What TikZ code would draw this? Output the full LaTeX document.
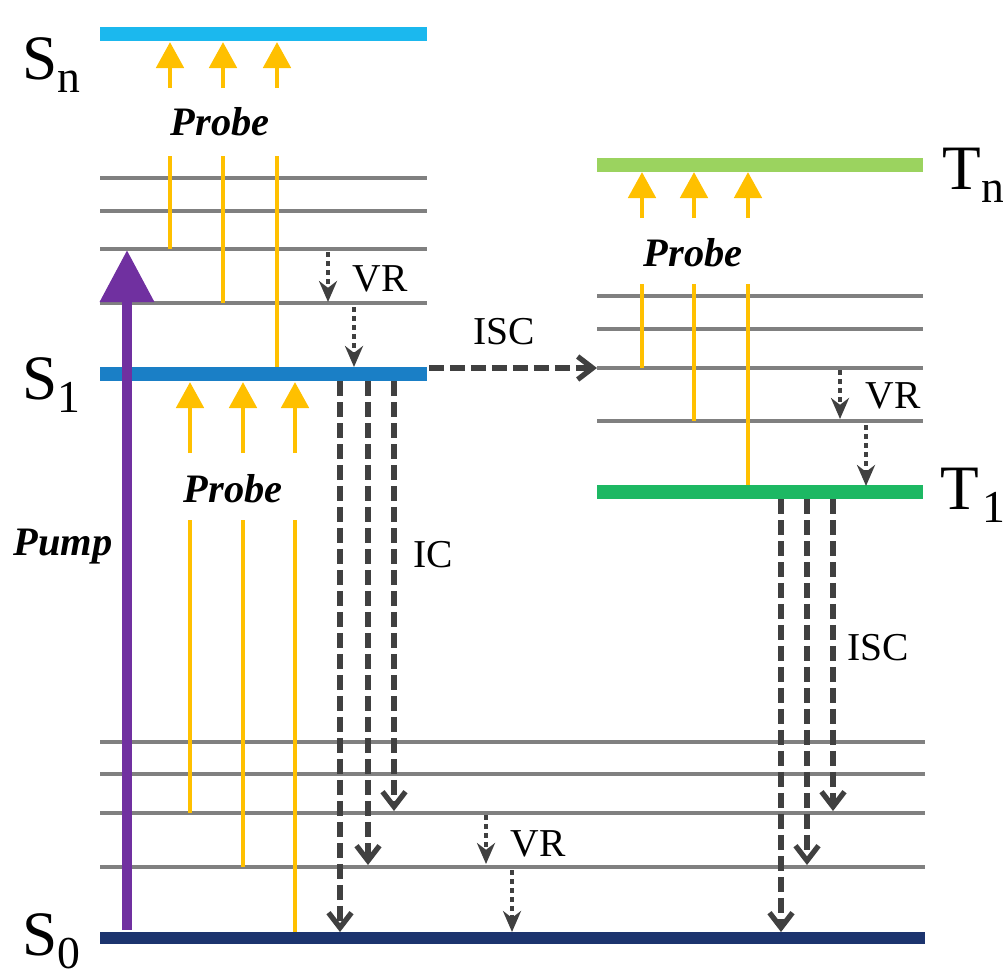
\documentclass[tikz,border=0pt]{standalone}
\usepackage{fontspec}
\setmainfont{Liberation Serif}
\usetikzlibrary{arrows.meta, positioning}
\definecolor{snblue}{RGB}{27,184,238}
\definecolor{sonebl}{RGB}{26,127,198}
\definecolor{szeronavy}{RGB}{28,52,110}
\definecolor{tngreen}{RGB}{155,211,95}
\definecolor{tonegreen}{RGB}{29,184,99}
\definecolor{probeyellow}{RGB}{255,192,0}
\definecolor{pumppurple}{RGB}{112,48,160}
\definecolor{levelgray}{RGB}{128,128,128}
\definecolor{arrowgray}{RGB}{64,64,64}
\newcommand{\statename}[2]{#1\raisebox{-7.4pt}{\fontsize{26}{26}\selectfont #2}}

\begin{document}
\begin{tikzpicture}[
    x=0.02cm, y=-0.02cm,
    level/.style={line width=7.9pt},
    sublevel/.style={line width=2.8pt, levelgray},
    probeline/.style={line width=2.8pt, probeyellow},
    probearrow/.style={probeline, -{Triangle[length=0.52cm, width=0.54cm]}},
    pumparrow/.style={line width=5.7pt, pumppurple, -{Triangle[length=1.04cm, width=1.04cm]}},
    icarrow/.style={line width=3pt, arrowgray, dash pattern=on 0.3cm off 0.12cm,
        -{Straight Barb[length=0.3cm, width=0.46cm]}},
    vrarrow/.style={line width=2.5pt, arrowgray, dash pattern=on 0.1cm off 0.08cm,
        -{Stealth[open, length=0.42cm, width=0.36cm]}},
    lbl/.style={font=\fontsize{22.5}{27}\selectfont, inner sep=0pt, anchor=base},
    probelbl/.style={lbl, font=\fontsize{23}{27}\selectfont\bfseries\itshape},
    statelbl/.style={font=\fontsize{36}{40}\selectfont, inner sep=0pt, anchor=base west}
]
\useasboundingbox (0,0) rectangle (1003,978);

% vibrational levels
\foreach \y in {178,211,249,303}
    \draw[sublevel] (100,\y) -- (427,\y);
\foreach \y in {296,329,368,421}
    \draw[sublevel] (597,\y) -- (923,\y);
\foreach \y in {742,774,813,867}
    \draw[sublevel] (100,\y) -- (925,\y);

% probe transitions
\draw[probeline] (170,156) -- (170,249);
\draw[probeline] (223,156) -- (223,303);
\draw[probeline] (277,156) -- (277,374);
\draw[probeline] (190,520) -- (190,813);
\draw[probeline] (243,520) -- (243,867);
\draw[probeline] (295,520) -- (295,938);
\draw[probeline] (642,284) -- (642,368);
\draw[probeline] (694,284) -- (694,421);
\draw[probeline] (748,284) -- (748,492);
\foreach \x in {170,223,277}
    \draw[probearrow] (\x,88) -- (\x,42);
\foreach \x in {190,243,295}
    \draw[probearrow] (\x,453) -- (\x,382);
\foreach \x in {642,694,748}
    \draw[probearrow] (\x,218) -- (\x,172);

% electronic states
\draw[level, snblue] (100,34) -- (427,34);
\draw[level, sonebl] (100,374) -- (427,374);
\draw[level, tngreen] (597,165) -- (923,165);
\draw[level, tonegreen] (597,492) -- (923,492);
\draw[level, szeronavy, line width=6.8pt] (100,938) -- (925,938);

\node[statelbl] (sn) at (22,79) {\statename{S}{n}};
\node[statelbl] (s1) at (22,399) {\statename{S}{1}};
\node[statelbl] (s0) at (22,955) {\statename{S}{0}};
\node[statelbl] (tn) at (942,189) {\statename{T}{n}};
\node[statelbl] (t1) at (940,509) {\statename{T}{\kern2pt 1}};

% pump
\draw[pumparrow] (127,930) -- (127,250);
\node[probelbl] (pump) at (63,555) {Pump};
\node[probelbl] (probesn) at (220,135) {Probe};
\node[probelbl] (probes1) at (233,502) {Probe};
\node[probelbl] (probetn) at (693,266) {Probe};

% vibrational relaxation
\draw[vrarrow] (328,252) -- (328,302);
\draw[vrarrow] (354,307) -- (354,367);
\draw[vrarrow] (840,370) -- (840,419);
\draw[vrarrow] (866,425) -- (866,486);
\draw[vrarrow] (486,815) -- (486,864);
\draw[vrarrow] (512,870) -- (512,932);
\node[lbl] (vrs) at (380,291) {VR};
\node[lbl] (vrt) at (893,408) {VR};
\node[lbl] (vrg) at (538,856) {VR};

% internal conversion and intersystem crossing
\draw[icarrow] (340,381) -- (340,932);
\draw[icarrow] (368,381) -- (368,865);
\draw[icarrow] (394,381) -- (394,811);
\draw[icarrow] (781,499) -- (781,932);
\draw[icarrow] (807,499) -- (807,865);
\draw[icarrow] (833,499) -- (833,811);
\draw[icarrow] (429,368) -- (597,368);
\node[lbl] (ic) at (433,567) {IC};
\node[lbl] (isct) at (504,344) {ISC};
\node[lbl] (iscg) at (878,660) {ISC};

\end{tikzpicture}
\end{document}
